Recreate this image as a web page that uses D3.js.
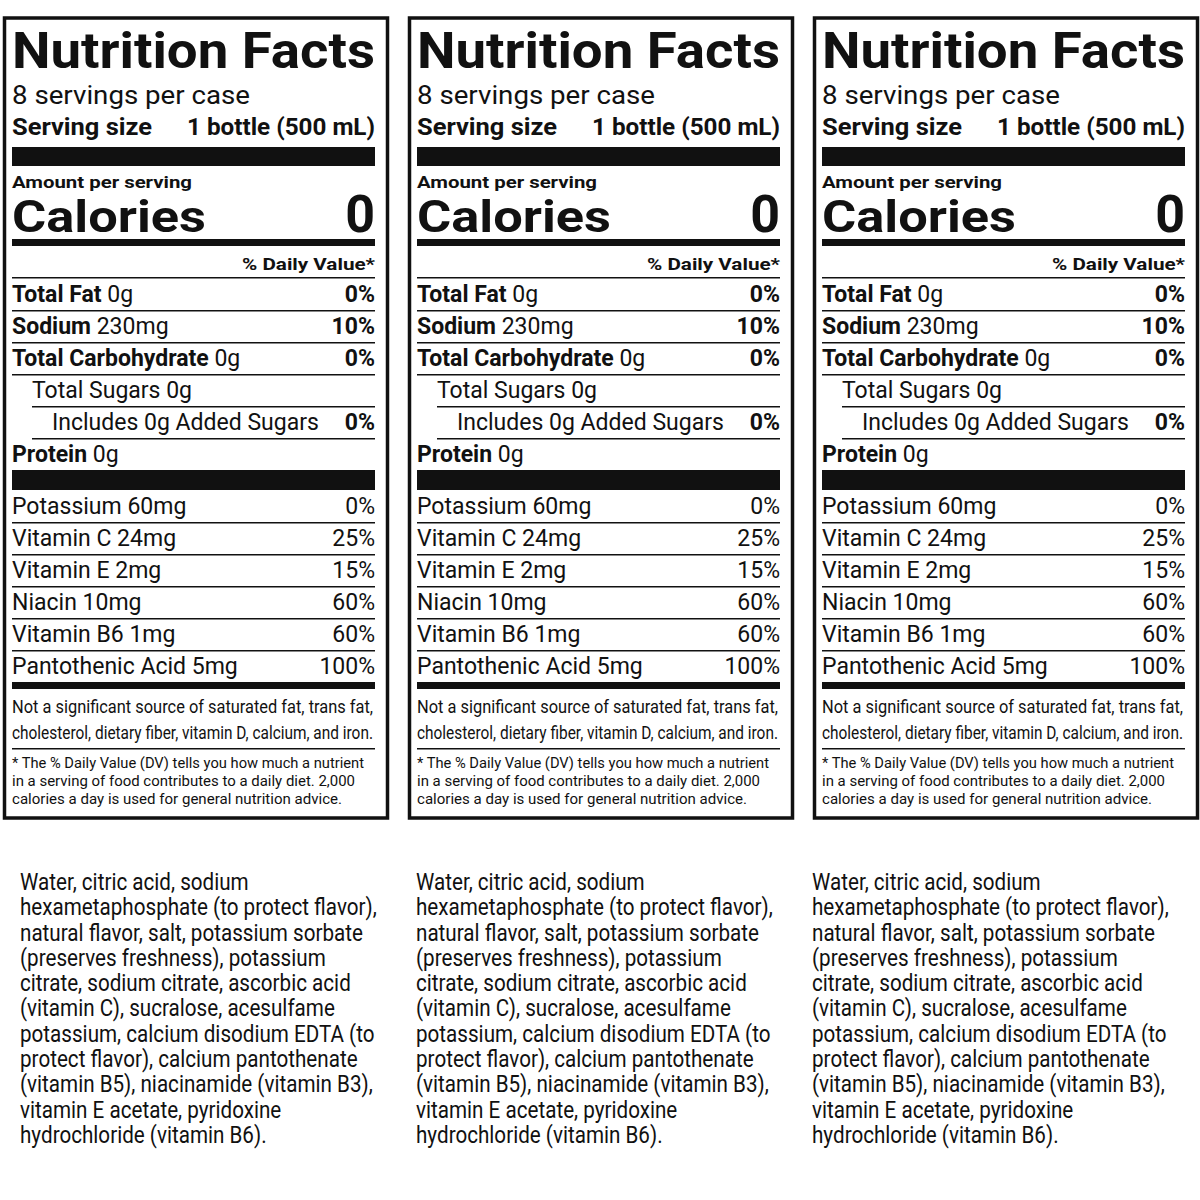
<!DOCTYPE html>
<html><head><meta charset="utf-8">
<script src="https://cdn.jsdelivr.net/npm/d3@7"></script>
<style>body{margin:0;background:#fff}</style></head>
<body><svg id="c" width="1200" height="1200"></svg>
<script>
const svg = d3.select('#c');
const F = '"Liberation Sans Narrow","Roboto","Arial Narrow",sans-serif';

// panel data
const panelX = [3, 408, 813];
const servings = "8 servings per case";
const servingSize = "1 bottle (500 mL)";
const calories = "0";
const mainRows = [
  {name: "Total Fat", amt: " 0g", dv: "0%", bold: true, indent: 0},
  {name: "Sodium", amt: " 230mg", dv: "10%", bold: true, indent: 0},
  {name: "Total Carbohydrate", amt: " 0g", dv: "0%", bold: true, indent: 0},
  {name: "Total Sugars 0g", amt: "", dv: "", bold: false, indent: 20},
  {name: "Includes 0g Added Sugars", amt: "", dv: "0%", bold: false, indent: 40},
  {name: "Protein", amt: " 0g", dv: "", bold: true, indent: 0}
];
const microRows = [
  ["Potassium 60mg", "0%"], ["Vitamin C 24mg", "25%"], ["Vitamin E 2mg", "15%"],
  ["Niacin 10mg", "60%"], ["Vitamin B6 1mg", "60%"], ["Pantothenic Acid 5mg", "100%"]
];
const notSig = ["Not a significant source of saturated fat, trans fat,",
  "cholesterol, dietary fiber, vitamin D, calcium, and iron."];
const dvNote = ["*  The % Daily Value (DV) tells you how much a nutrient",
  "   in a serving of food contributes to a daily diet. 2,000",
  "   calories a day is used for general nutrition advice."];
const ingredients = ["Water, citric acid, sodium", "hexametaphosphate (to protect flavor),",
  "natural flavor, salt, potassium sorbate", "(preserves freshness), potassium",
  "citrate, sodium citrate, ascorbic acid", "(vitamin C), sucralose, acesulfame",
  "potassium, calcium disodium EDTA (to", "protect flavor), calcium pantothenate",
  "(vitamin B5), niacinamide (vitamin B3),", "vitamin E acetate, pyridoxine",
  "hydrochloride (vitamin B6)."];
const ingX = [20, 416, 812];

const rowY = d3.scaleLinear().domain([0, 1]).range([302, 334]);
const microY = d3.scaleLinear().domain([0, 1]).range([514, 546]);
const ingY = d3.scaleLinear().domain([0, 1]).range([890, 915.3]);

function txt(g, x, y, s, size, opts = {}) {
  const t = g.append('text').attr('x', x).attr('y', y).attr('font-family', F)
    .attr('font-size', size).attr('font-weight', opts.bold ? 'bold' : 'normal')
    .attr('text-anchor', opts.anchor || 'start').attr('fill', '#111').text(s);
  if (opts.len) t.attr('textLength', opts.len).attr('lengthAdjust', 'spacingAndGlyphs');
  return t;
}
function bar(g, x1, x2, y, h) {
  g.append('rect').attr('x', x1).attr('y', y).attr('width', x2 - x1).attr('height', h).attr('fill', '#111');
}

panelX.forEach((px, pi) => {
  const g = svg.append('g');
  const L = px + 9, R = px + 372;
  g.append('rect').attr('x', px + 1.5).attr('y', 18).attr('width', 383).attr('height', 800)
    .attr('fill', 'none').attr('stroke', '#111').attr('stroke-width', 3.5);
  txt(g, L, 68, "Nutrition Facts", 50, {bold: true, len: R - L});
  txt(g, L, 104, servings, 26, {len: 238});
  txt(g, L, 135, "Serving size", 24, {bold: true, len: 140});
  txt(g, R, 135, servingSize, 24, {bold: true, anchor: 'end', len: 188});
  bar(g, L, R, 147, 19);
  txt(g, L, 188, "Amount per serving", 16, {bold: true, len: 180});
  txt(g, L, 232, "Calories", 44, {bold: true, len: 194});
  txt(g, R, 232, calories, 52, {bold: true, anchor: 'end'});
  bar(g, L, R, 239, 7);
  txt(g, R, 270, "% Daily Value*", 17, {bold: true, anchor: 'end', len: 133});
  bar(g, L, R, 277, 1.5);
  mainRows.forEach((r, i) => {
    const y = rowY(i);
    const t = g.append('text').attr('x', L + r.indent).attr('y', y).attr('font-family', F)
      .attr('font-size', 23).attr('fill', '#111');
    t.append('tspan').attr('font-weight', r.bold ? 'bold' : 'normal').text(r.name);
    t.append('tspan').text(r.amt);
    if (r.dv) txt(g, R, y, r.dv, 23, {bold: true, anchor: 'end'});
    if (i < mainRows.length - 1) bar(g, L + (i >= 3 ? 20 : 0), R, y + 8, 1.5);
  });
  bar(g, L, R, 470, 20);
  microRows.forEach((r, i) => {
    const y = microY(i);
    txt(g, L, y, r[0], 23);
    txt(g, R, y, r[1], 23, {anchor: 'end'});
    if (i < microRows.length - 1) bar(g, L, R, y + 8, 1.5);
  });
  bar(g, L, R, 682, 7);
  notSig.forEach((s, i) => txt(g, L, 713 + i * 26, s, 19, {len: R - L - 2}));
  bar(g, L, R, 748, 1.5);
  dvNote.forEach((s, i) => txt(g, L, 768 + i * 18, s, 15, {len: i === 0 ? 352 : (i === 1 ? 343 : 330)}));

  const ig = svg.append('g').attr('transform', `translate(${ingX[pi]},0) scale(0.86,1)`);
  ingredients.forEach((s, i) => txt(ig, 0, ingY(i), s, 24));
});
</script></body></html>
